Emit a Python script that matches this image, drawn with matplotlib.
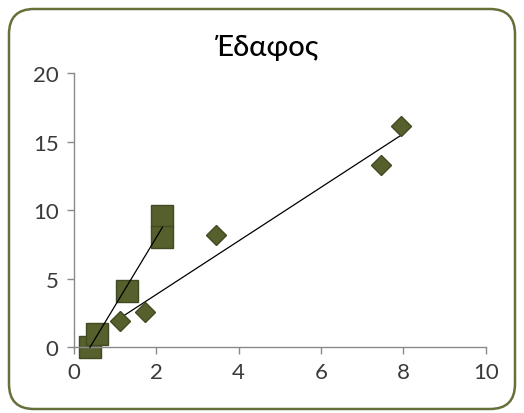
import numpy as np
import matplotlib.pyplot as plt
from matplotlib.patches import FancyBboxPatch

# series
sq_x = [0.39, 0.55, 1.28, 2.15, 2.15]
sq_y = [0.0, 0.95, 4.1, 9.6, 8.05]
dia_x = [1.13, 1.72, 3.46, 7.45, 7.95]
dia_y = [1.93, 2.55, 8.18, 13.3, 16.15]

x_ticks = [0, 2, 4, 6, 8, 10]
y_ticks = [0, 5, 10, 15, 20]
title = 'Έδαφος'

plt.rcParams['font.family'] = ['Lato', 'DejaVu Sans']

fig = plt.figure(figsize=(5.24, 4.14), dpi=100)
ax = fig.add_axes([0.141, 0.159, 0.786, 0.662])

# rounded chart border
border = FancyBboxPatch((0.09, 0.04), 5.06, 4.0,
                        boxstyle='round,pad=0,rounding_size=0.25',
                        transform=fig.dpi_scale_trans,
                        facecolor='white', edgecolor='#66703a', linewidth=1.8,
                        zorder=-10)
fig.patches.append(border)

face = '#56602c'
edge = '#414a22'

# linear trendlines over each series' x range
for xs, ys in [(sq_x, sq_y), (dia_x, dia_y)]:
    k, b = np.polyfit(xs, ys, 1)
    xr = np.array([min(xs), max(xs)])
    ax.plot(xr, k * xr + b, color='black', linewidth=0.9, zorder=3, clip_on=False)

ax.plot(sq_x, sq_y, linestyle='none', marker='s', markersize=16.5,
        markerfacecolor=face, markeredgecolor=edge, markeredgewidth=1.0,
        zorder=2, clip_on=False)
ax.plot(dia_x, dia_y, linestyle='none', marker='D', markersize=10.5,
        markerfacecolor=face, markeredgecolor=edge, markeredgewidth=1.0,
        zorder=4, clip_on=False)

ax.set_xlim(0, 10)
ax.set_ylim(0, 20)
ax.set_xticks(x_ticks)
ax.set_yticks(y_ticks)
ax.set_xticklabels([str(t) for t in x_ticks])
ax.set_yticklabels([str(t) for t in y_ticks])

for s in ['top', 'right']:
    ax.spines[s].set_visible(False)
for s in ['left', 'bottom']:
    ax.spines[s].set_color('#8a8a8a')
    ax.spines[s].set_linewidth(1.0)
ax.tick_params(direction='out', length=5, width=1.0, color='#8a8a8a',
               labelsize=16, labelcolor='#3a3a3a', pad=6)
ax.patch.set_alpha(0)

fig.text(0.51, 0.885, title, ha='center', va='center', fontsize=21,
         fontweight='medium', color='black')

fig.savefig('out.png', dpi=100)
